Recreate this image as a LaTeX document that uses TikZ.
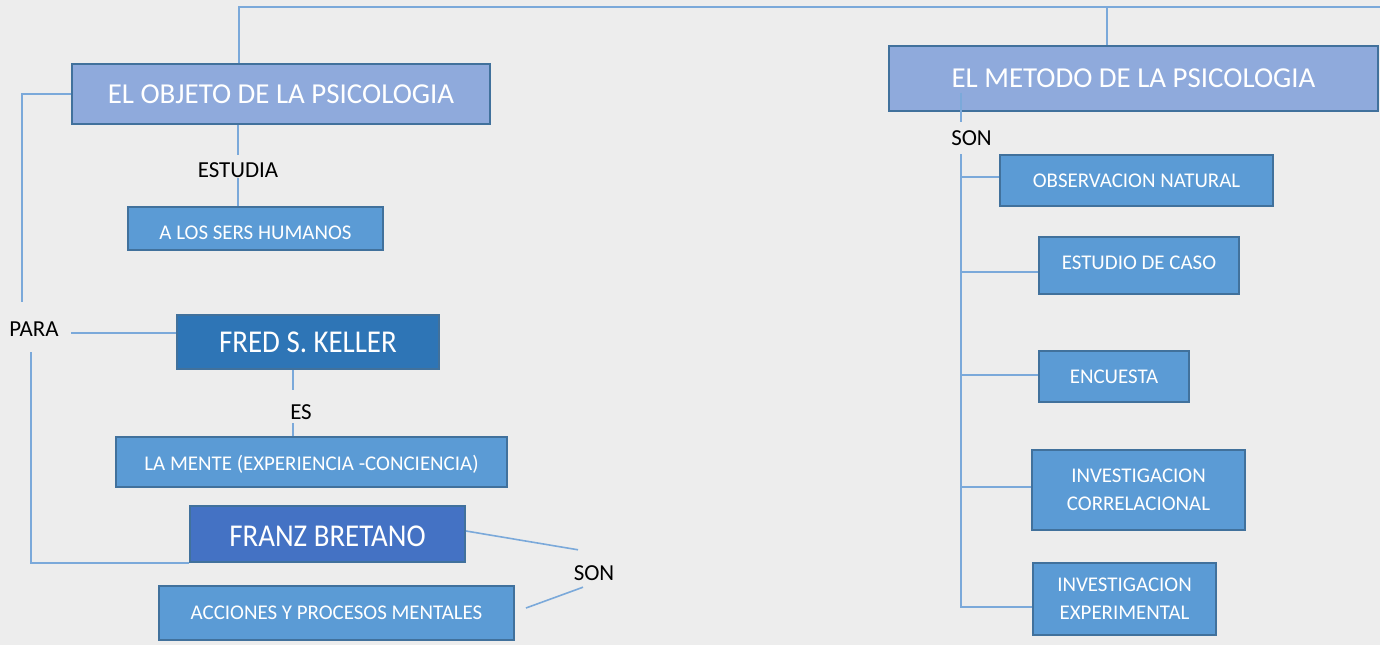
\documentclass[tikz,border=0pt]{standalone}
\usepackage{graphicx}
\usepackage{fontspec}
\setmainfont{Carlito}
\usetikzlibrary{calc}
\definecolor{bg}{HTML}{EDEDED}
\definecolor{titlef}{HTML}{8FAADC}
\definecolor{smallf}{HTML}{5B9BD5}
\definecolor{fredf}{HTML}{2E75B6}
\definecolor{franzf}{HTML}{4472C4}
\definecolor{bord}{HTML}{41719C}
\definecolor{connc}{HTML}{7BA9DA}
\begin{document}
\begin{tikzpicture}[x=1bp,y=-1bp,
  box/.style={draw=bord, line width=2bp, text=white, inner sep=0pt, align=center},
  titlebox/.style={box, fill=titlef, font=\fontsize{29}{35}\selectfont},
  smallbox/.style={box, fill=smallf, font=\fontsize{21}{28}\selectfont},
  namebox/.style={box, font=\fontsize{29}{35}\selectfont},
  lbl/.style={inner sep=0pt, text=black, font=\fontsize{23}{28}\selectfont, text height=15bp, text depth=0pt, anchor=base},
  conn/.style={draw=connc, line width=1.6bp}]
\fill[bg] (0,0) rectangle (1380,645);
\useasboundingbox (0,0) rectangle (1380,645);

% boxes
\node[titlebox, minimum width=418bp, minimum height=60bp] (b1) at (281,94) {EL OBJETO DE LA PSICOLOGIA};
\node[titlebox, minimum width=489bp, minimum height=65bp] (b2) at (1133.5,78.5) {EL METODO DE LA PSICOLOGIA};
\node[smallbox, minimum width=255bp, minimum height=43bp, text height=21bp, text depth=0bp] (hum) at (255.5,228.5) {A LOS SERS HUMANOS};
\node[namebox, fill=fredf, minimum width=262bp, minimum height=54bp] (fred) at (308,342) {\scalebox{1}[1.1]{FRED S. KELLER}};
\node[smallbox, minimum width=391bp, minimum height=50bp, text height=16bp, text depth=0bp] (mente) at (311.5,462) {LA MENTE (EXPERIENCIA -CONCIENCIA)};
\node[namebox, fill=franzf, minimum width=275bp, minimum height=56bp, text height=25bp, text depth=0bp] (franz) at (327.5,534) {\scalebox{1}[1.1]{FRANZ BRETANO}};
\node[smallbox, minimum width=355bp, minimum height=54bp] (acc) at (336.5,613) {ACCIONES Y PROCESOS MENTALES};
\node[smallbox, minimum width=273bp, minimum height=51bp] (obs) at (1136.5,180.5) {OBSERVACION NATURAL};
\node[smallbox, minimum width=200bp, minimum height=57bp, text height=13bp, text depth=6bp] (est) at (1139,265.5) {ESTUDIO DE CASO};
\node[smallbox, minimum width=150bp, minimum height=51bp] (enc) at (1114,376.5) {ENCUESTA};
\node[smallbox, minimum width=213bp, minimum height=80bp] (corr) at (1138.5,490) {INVESTIGACION\\CORRELACIONAL};
\node[smallbox, minimum width=183bp, minimum height=72bp] (exper) at (1124.5,599) {INVESTIGACION\\EXPERIMENTAL};

% labels
\node[lbl] (estudia) at (238,178) {ESTUDIA};
\node[lbl] (para) at (34,336) {PARA};
\node[lbl] (es) at (301,419) {ES};
\node[lbl] (son1) at (594,580) {SON};
\node[lbl] (son2) at (971.5,146) {SON};

% top connector
\coordinate (tr) at (1380,7);
\draw[conn] ([xshift=-42bp]b1.north) |- (tr);
\draw[conn] ([xshift=-26.5bp]b2.north) -- ([xshift=-26.5bp]b2.north |- tr);

% objeto -> estudia -> humanos
\draw[conn] (b1.south -| estudia.north) -- ([yshift=8bp]estudia.north);
\draw[conn] (estudia.south) -- (estudia.south |- hum.north);

% objeto -> para
\draw[conn] (b1.west) -| ([xshift=-12bp,yshift=19bp]para.north);
\coordinate (paraR) at ($(para.east)+(12,0)$);
\coordinate (fredL) at ([yshift=9bp]fred.west);
\draw[conn] (fredL) -- (fredL -| paraR);
\draw[conn] ([xshift=-3bp,yshift=-16bp]para.south) |- (franz.south west);

% fred -> es -> mente
\coordinate (esTop) at ([xshift=-8bp,yshift=14bp]es.north);
\draw[conn] (fred.south -| esTop) -- (esTop);
\coordinate (esBot) at ([xshift=-8bp,yshift=-4bp]es.south);
\draw[conn] (esBot) -- (esBot |- mente.north);

% franz -> son -> acciones
\draw[conn] ([yshift=3bp]franz.east) -- ([xshift=-16bp,yshift=15bp]son1.north);
\draw[conn] ([xshift=-11bp,yshift=-7bp]son1.south) -- ([xshift=11bp,yshift=5bp]acc.east);

% metodo -> son -> list
\draw[conn] ([xshift=-10.5bp,yshift=38bp]son2.north) -- ([xshift=-10.5bp,yshift=9bp]son2.north);
\coordinate (trunk) at ([xshift=-10.5bp,yshift=-8bp]son2.south);
\coordinate (obsL) at ([yshift=3.5bp]obs.west);
\coordinate (estL) at ([yshift=-6.5bp]est.west);
\coordinate (encL) at ([yshift=1.5bp]enc.west);
\coordinate (corrL) at ([yshift=3bp]corr.west);
\coordinate (expL) at ([yshift=-8bp]exper.west);
\draw[conn] (trunk) -- (trunk |- expL) -- (expL);
\draw[conn] (trunk |- obsL) -- (obsL);
\draw[conn] (trunk |- estL) -- (estL);
\draw[conn] (trunk |- encL) -- (encL);
\draw[conn] (trunk |- corrL) -- (corrL);
\end{tikzpicture}
\end{document}
